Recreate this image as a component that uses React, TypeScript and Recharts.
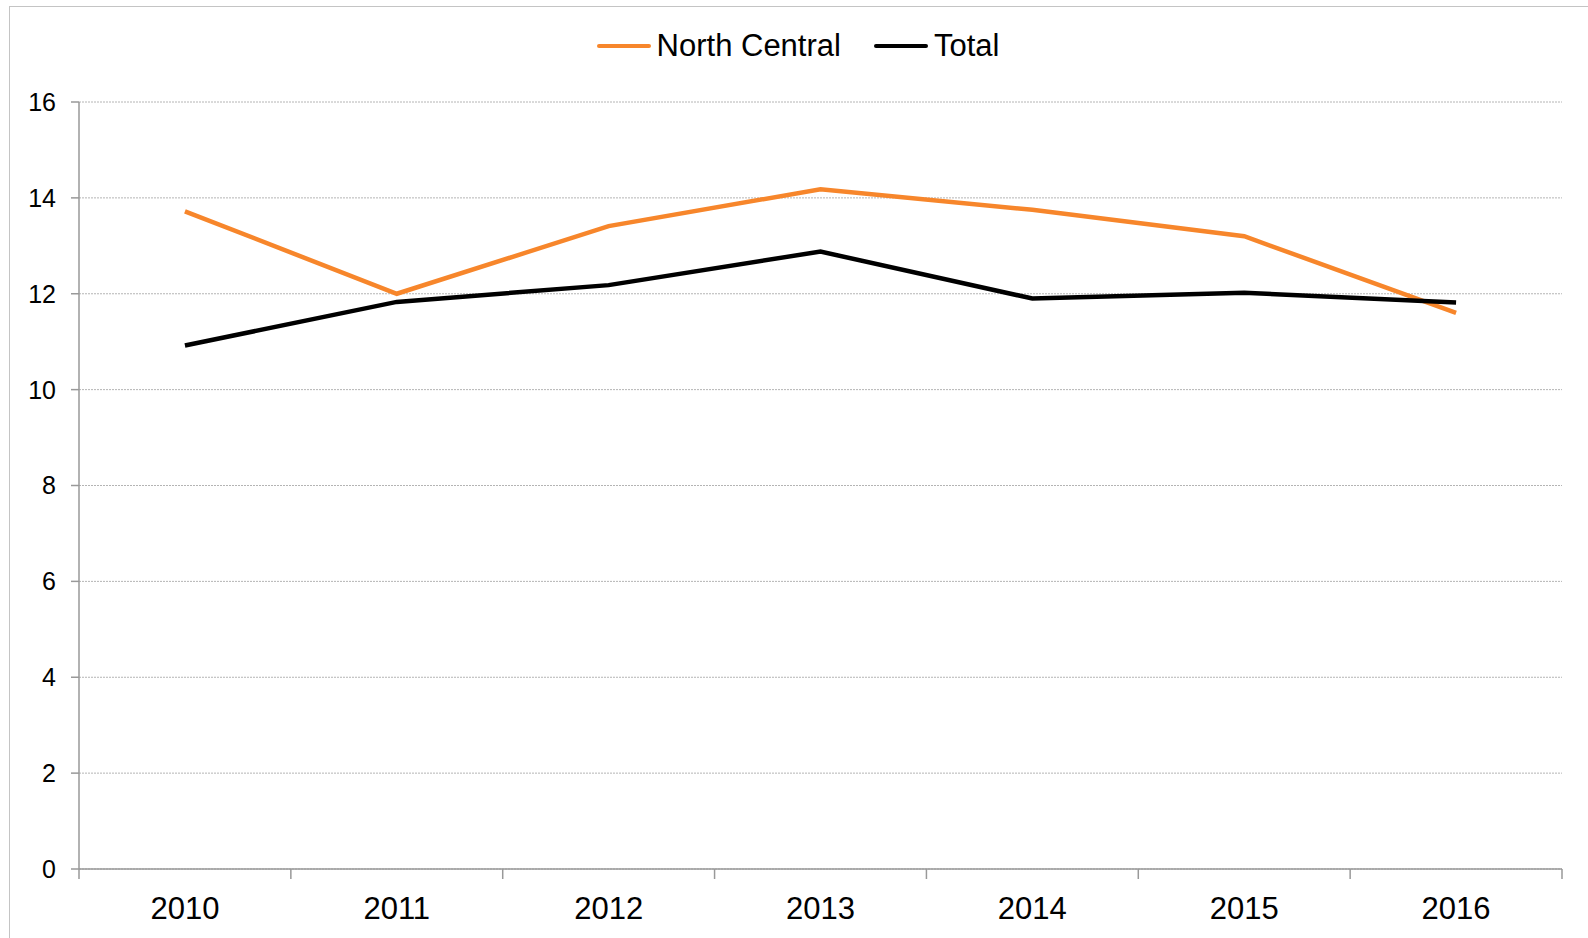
import React from 'react';
import { LineChart, Line, XAxis, YAxis, CartesianGrid, Legend } from 'recharts';

const years = ['2010', '2011', '2012', '2013', '2014', '2015', '2016'];
const northCentral = [13.72, 12.0, 13.41, 14.18, 13.75, 13.2, 11.6];
const total = [10.92, 11.83, 12.18, 12.88, 11.9, 12.02, 11.82];
const yTicks = [0, 2, 4, 6, 8, 10, 12, 14, 16];

// integer positions carry the year labels, half positions carry the tick marks
const xTicks: number[] = [];
for (let i = -0.5; i <= years.length - 0.5; i += 0.5) xTicks.push(i);

const data = years.map((y, i) => ({ idx: i, year: y, northCentral: northCentral[i], total: total[i] }));

const FONT = '"Liberation Sans", Arial, sans-serif';
const ORANGE = '#F7862B';

const XTick = (props: any) => {
  const { x, y, payload } = props;
  const v = payload.value as number;
  if (Number.isInteger(v)) {
    return (
      <text x={x} y={y + 50} textAnchor="middle" fontSize={31} fontFamily={FONT} fill="#000">
        {years[v]}
      </text>
    );
  }
  return <line x1={x} x2={x} y1={y} y2={y + 10} stroke="#999" strokeWidth={1.5} />;
};

const LegendContent = () => {
  const items = [
    { name: 'North Central', color: ORANGE },
    { name: 'Total', color: '#000' },
  ];
  return (
    <div style={{ display: 'flex', justifyContent: 'center', paddingLeft: 8, fontFamily: FONT, fontSize: 31, color: '#000' }}>
      {items.map((it, i) => (
        <div key={it.name} style={{ display: 'flex', alignItems: 'center', marginLeft: i ? 33 : 0 }}>
          <span style={{ display: 'inline-block', width: 54, height: 4, background: it.color, borderRadius: 2, marginRight: 6 }} />
          <span>{it.name}</span>
        </div>
      ))}
    </div>
  );
};

export default function App() {
  return (
    <div style={{ position: 'absolute', left: 0, top: 0, width: 1588, height: 938, overflow: 'hidden', background: '#fff' }}>
      <div
        style={{
          position: 'absolute',
          left: 9,
          top: 6,
          width: 1600,
          height: 950,
          borderLeft: '1.5px solid #c4c4c4',
          borderTop: '1.5px solid #c4c4c4',
        }}
      />
      <div style={{ position: 'absolute', left: 0, top: 0 }}>
        <LineChart width={1588} height={938} data={data} margin={{ top: 42, right: 26, left: 0, bottom: 0 }}>
          <CartesianGrid vertical={false} stroke="#b4b4b4" strokeDasharray="2 1" />
          <XAxis
            dataKey="idx"
            type="number"
            domain={[-0.5, years.length - 0.5]}
            ticks={xTicks}
            interval={0}
            height={69}
            tickSize={0}
            tickMargin={0}
            tickLine={false}
            axisLine={{ stroke: '#999', strokeWidth: 1.5 }}
            tick={<XTick />}
          />
          <YAxis
            domain={[0, 16]}
            ticks={yTicks}
            width={79}
            tickSize={8}
            tickMargin={15}
            tickLine={{ stroke: '#999', strokeWidth: 1.5 }}
            axisLine={{ stroke: '#999', strokeWidth: 1.5 }}
            tick={{ fontSize: 25, fontFamily: FONT, fill: '#000' }}
          />
          <Legend verticalAlign="top" height={60} wrapperStyle={{ top: 28, left: 0, width: 1588 }} content={<LegendContent />} />
          <Line dataKey="northCentral" name="North Central" stroke={ORANGE} strokeWidth={4.5} dot={false} isAnimationActive={false} />
          <Line dataKey="total" name="Total" stroke="#000" strokeWidth={4.5} dot={false} isAnimationActive={false} />
        </LineChart>
      </div>
    </div>
  );
}
